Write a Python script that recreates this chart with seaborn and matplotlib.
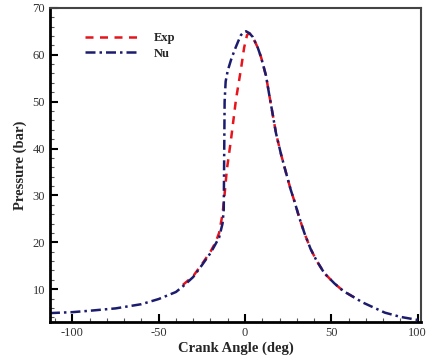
import numpy as np
import pandas as pd
import matplotlib
matplotlib.use("Agg")
import matplotlib.pyplot as plt
import seaborn as sns
from matplotlib.ticker import MultipleLocator

# ---- data ----
nu_angle = [-113, -100, -90, -75, -60, -50, -40, -35, -30, -25, -20, -18, -15, -13,
            -12.3, -11.8, -11.2, -10, -8, -6, -4, -2.3, -0.8, 0.6, 2.5, 4.5, 7.4, 9.3,
            12.2, 13.8, 16.1, 18, 21, 23.8, 26.5, 28.7, 31.5, 34.5, 38, 41.3, 46, 51.9,
            57, 63.5, 68, 73.3, 81, 90, 100.6]
nu_p = [4.9, 5.1, 5.4, 5.9, 6.8, 7.9, 9.4, 10.9, 12.6, 15.1, 17.7, 19.0, 21.0, 24.0,
        27.0, 50.0, 54.3, 56.6, 59.0, 61.0, 62.8, 64.2, 64.8, 65.0, 64.6, 63.8, 61.5, 59.5,
        55.5, 52.0, 47.2, 43.2, 38.6, 34.8, 31.2, 28.7, 25.2, 21.9, 18.6, 16.2, 13.4, 11.2,
        9.6, 8.2, 7.2, 6.3, 5.0, 4.1, 3.4]

exp_angle = [-36, -30, -25, -20, -17, -15, -13, -12, -10.5, -8.1, -5.2, -2.3, -0.5,
             1.2, 2.5, 4.5, 7.4, 9.3, 12.2, 13.8, 16.1, 18, 21, 23.8, 26.5, 28.7,
             31.5, 34.5, 38, 41.3, 46, 51.9, 57, 63.5]
exp_p = [10.9, 12.8, 15.3, 18.0, 20.0, 22.0, 26.0, 29.5, 35.5, 41.9, 50.5, 57.0, 61.5,
         64.2, 64.6, 63.8, 61.5, 59.5, 55.5, 52.0, 47.2, 43.2, 38.6, 34.8, 31.2, 28.7,
         25.2, 21.9, 18.6, 16.2, 13.4, 11.2, 9.6, 8.2]

x_ticks = [-100, -50, 0, 50, 100]
y_ticks = [10, 20, 30, 40, 50, 60, 70]

df_exp = pd.DataFrame({"angle": exp_angle, "p": exp_p})
df_nu = pd.DataFrame({"angle": nu_angle, "p": nu_p})

sns.set_style("ticks")
plt.rcParams["font.family"] = ["Liberation Serif", "DejaVu Serif"]
plt.rcParams["xtick.direction"] = "in"
plt.rcParams["ytick.direction"] = "in"
plt.rcParams["axes.unicode_minus"] = False

fig = plt.figure(figsize=(4.27, 3.56), dpi=100)
ax = fig.add_axes([0.117, 0.0955, 0.869, 0.8825])

red = "#e8141c"
navy = "#1c1c6e"
sns.lineplot(data=df_exp, x="angle", y="p", ax=ax, color=red, lw=1.8,
             label="Exp", sort=False, estimator=None)
sns.lineplot(data=df_nu, x="angle", y="p", ax=ax, color=navy, lw=1.8,
             label="Nu", sort=False, estimator=None)
ax.lines[0].set_dashes((3.2, 2.6))
ax.lines[1].set_dashes((4, 1.6, 1, 1.6))

ax.set_xlim(-113, 102)
ax.set_ylim(3, 70)
ax.set_xticks(x_ticks)
ax.set_yticks(y_ticks)
ax.xaxis.set_minor_locator(MultipleLocator(10))
ax.yaxis.set_minor_locator(MultipleLocator(2))
ax.tick_params(axis="both", which="major", length=6, width=1.5, labelsize=9,
               labelcolor="#333333", color="black")
ax.tick_params(axis="both", which="minor", length=3, width=0.8, color="#555555")

for s in ["left", "bottom"]:
    ax.spines[s].set_linewidth(2.0)
    ax.spines[s].set_color("black")
for s in ["top", "right"]:
    ax.spines[s].set_linewidth(1.5)
    ax.spines[s].set_color("#444444")

ax.set_xlabel("Crank Angle (deg)", fontsize=10.5, fontweight="bold", labelpad=2)
ax.set_ylabel("Pressure (bar)", fontsize=10.5, fontweight="bold", labelpad=4)

leg = ax.legend(loc="upper left", bbox_to_anchor=(0.065, 0.958), frameon=False,
                handlelength=4.4, handletextpad=1.1, labelspacing=0.28,
                prop={"weight": "bold", "size": 9})
leg.get_lines()[0].set_dashes((3.2, 2.6))
leg.get_lines()[1].set_dashes((4, 1.6, 1, 1.6))

fig.savefig("out.png", dpi=100)
